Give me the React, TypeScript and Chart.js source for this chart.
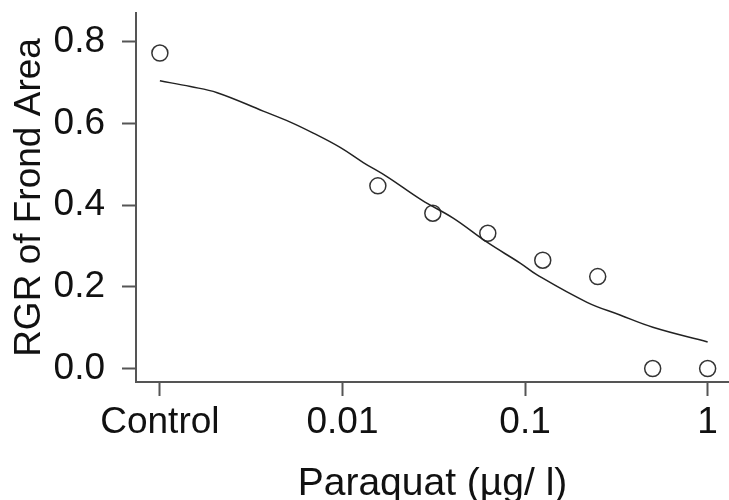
import React, { useEffect, useRef } from "react";
import { Chart, registerables } from "chart.js";

Chart.register(...registerables);

// Observed doses (Control plotted one decade below 0.01)
const doses = [0.001, 0.015625, 0.03125, 0.0625, 0.125, 0.25, 0.5, 1];
const rgrValues = [0.772, 0.447, 0.38, 0.331, 0.265, 0.225, 0.0, 0.0];

// Fitted curve
const curveDoses = [0.001, 0.00147, 0.00206, 0.00368, 0.00518, 0.00692, 0.00971, 0.013, 0.0176, 0.0272, 0.0404, 0.0619, 0.094, 0.1164, 0.2185, 0.331, 0.501, 1];
const curveValues = [0.704, 0.69, 0.675, 0.63, 0.603, 0.576, 0.541, 0.504, 0.469, 0.412, 0.368, 0.309, 0.258, 0.229, 0.162, 0.131, 0.101, 0.065];

const xTickValues = [0.001, 0.01, 0.1, 1];
const xTickLabels = ["Control", "0.01", "0.1", "1"];
const yTickValues = [0, 0.2, 0.4, 0.6, 0.8];
const yTickLabels = ["0.0", "0.2", "0.4", "0.6", "0.8"];

const FONT = "'Liberation Sans', Arial, sans-serif";

export default function App() {
  const ref = useRef<HTMLCanvasElement>(null);
  useEffect(() => {
    if (!ref.current) return;
    const chart = new Chart(ref.current, {
      type: "scatter",
      data: {
        datasets: [
          {
            type: "line",
            data: curveDoses.map((d, i) => ({ x: d, y: curveValues[i] })),
            borderColor: "#222",
            borderWidth: 1.5,
            pointRadius: 0,
            tension: 0.4,
            fill: false,
          },
          {
            type: "scatter",
            data: doses.map((d, i) => ({ x: d, y: rgrValues[i] })),
            pointRadius: 8,
            pointBorderWidth: 1.5,
            borderColor: "#333",
            backgroundColor: "rgba(0,0,0,0)",
            pointBackgroundColor: "rgba(0,0,0,0)",
            pointBorderColor: "#333",
          },
        ],
      },
      options: {
        responsive: false,
        animation: false,
        layout: { autoPadding: false, padding: { top: 13, left: 0, right: 0, bottom: 0 } },
        plugins: { legend: { display: false }, tooltip: { enabled: false } },
        scales: {
          x: {
            type: "logarithmic",
            min: 0.00074,
            max: 1.309,
            afterBuildTicks: (s: any) => {
              s.ticks = xTickValues.map((v) => ({ value: v }));
            },
            afterFit: (s: any) => {
              s.height = 118;
              s.paddingLeft = 0;
              s.paddingRight = 0;
              s.paddingTop = 0;
              s.paddingBottom = 0;
            },
            grid: { drawOnChartArea: false, drawTicks: true, tickLength: 14, tickColor: "#555", tickWidth: 2 },
            border: { display: true, color: "#555", width: 2 },
            ticks: {
              autoSkip: false,
              maxRotation: 0,
              padding: 5,
              color: "#111",
              font: { family: FONT, size: 37 },
              callback: (v: any) => {
                const i = xTickValues.findIndex((t) => Math.abs(t - Number(v)) < 1e-9);
                return i >= 0 ? xTickLabels[i] : "";
              },
            },
            title: {
              display: true,
              text: "Paraquat (µg/ l)",
              color: "#111",
              padding: { top: 0, bottom: 0 },
              font: { family: FONT, size: 39, lineHeight: 0.8 },
            },
          },
          y: {
            type: "linear",
            min: -0.033,
            max: 0.87,
            afterBuildTicks: (s: any) => {
              s.ticks = yTickValues.map((v) => ({ value: v }));
            },
            afterFit: (s: any) => {
              s.width = 136;
              s.paddingLeft = 0;
              s.paddingRight = 0;
              s.paddingTop = 0;
              s.paddingBottom = 0;
            },
            grid: { drawOnChartArea: false, drawTicks: true, tickLength: 14, tickColor: "#555", tickWidth: 2 },
            border: { display: true, color: "#555", width: 2 },
            ticks: {
              autoSkip: false,
              padding: 17,
              color: "#111",
              font: { family: FONT, size: 37 },
              callback: (v: any) => {
                const i = yTickValues.findIndex((t) => Math.abs(t - Number(v)) < 1e-9);
                return i >= 0 ? yTickLabels[i] : "";
              },
            },
            title: {
              display: true,
              text: "RGR of Frond Area",
              color: "#111",
              padding: { top: 8, bottom: 0 },
              font: { family: FONT, size: 37 },
            },
          },
        },
      },
    });
    return () => chart.destroy();
  }, []);
  return (
    <div style={{ position: "absolute", left: 0, top: 0, width: 729, height: 500, background: "#fff" }}>
      <canvas ref={ref} width={729} height={500} style={{ display: "block" }} />
    </div>
  );
}
